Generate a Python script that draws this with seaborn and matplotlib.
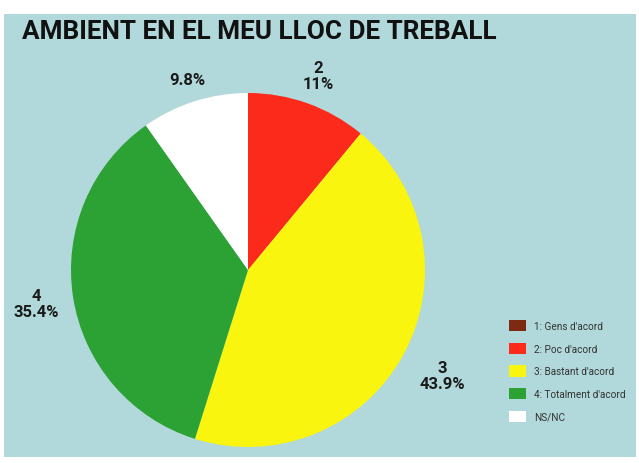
import matplotlib
matplotlib.use("Agg")
import matplotlib.pyplot as plt
import matplotlib.patches as mpatches
import numpy as np
import seaborn as sns

# data
categories = ["2", "3", "4", "NS/NC"]
shares = [11.0, 43.9, 35.4, 9.8]
slice_labels = ["2\n11%", "3\n43.9%", "4\n35.4%", "9.8%"]
slice_colors = ["#fb2a1b", "#f9f50e", "#2ca234", "#ffffff"]

legend_labels = ["1: Gens d'acord", "2: Poc d'acord", "3: Bastant d'acord",
                 "4: Totalment d'acord", "NS/NC"]
legend_colors = ["#7c2a12", "#fb2a1b", "#f9f50e", "#2ca234", "#ffffff"]

sns.set_theme(style="white")
plt.rcParams["font.family"] = ["Roboto", "DejaVu Sans"]

bg = "#b1d8da"
fig = plt.figure(figsize=(6.39, 4.64), dpi=100)
fig.patch.set_facecolor("white")
fig.patches.append(mpatches.Rectangle((4 / 639, 6 / 464), 632 / 639, 443 / 464,
                                      transform=fig.transFigure, facecolor=bg,
                                      edgecolor="none", zorder=-5))

fig.text(22 / 639, 1 - 32 / 464, "AMBIENT EN EL MEU LLOC DE TREBALL",
         fontsize=18.8, fontweight="bold", color="#111111", va="center", ha="left")

# pie axes: centre ~ (248, 271) px, radius ~ 177 px
r_px = 177
lim = 1.35
side = 2 * lim * r_px
cx, cy = 248, 464 - 271
ax = fig.add_axes([(cx - side / 2) / 639, (cy - side / 2) / 464, side / 639, side / 464])
ax.set_zorder(2)
ax.set_facecolor("none")

wedges, _ = ax.pie(shares, colors=slice_colors, startangle=90, counterclock=False,
                   radius=1, wedgeprops=dict(linewidth=0))
ax.set_xlim(-lim, lim)
ax.set_ylim(-lim, lim)
ax.set_aspect("equal")
ax.axis("off")

label_dist = [1.17, 1.25, 1.21, 1.13]
for w, lab, d in zip(wedges, slice_labels, label_dist):
    ang = np.deg2rad((w.theta1 + w.theta2) / 2)
    ax.text(d * np.cos(ang), d * np.sin(ang), lab, ha="center", va="center",
            fontsize=12, fontweight="bold", color="#1a1a1a", linespacing=1.1)

handles = [mpatches.Patch(facecolor=c, edgecolor="none", label=l)
           for c, l in zip(legend_colors, legend_labels)]
fig.legend(handles=handles, loc="center left", bbox_to_anchor=(500 / 639, 1 - 372 / 464),
           frameon=False, fontsize=7.2, labelcolor="#333333", handlelength=1.7,
           handleheight=1.35, labelspacing=1.15, handletextpad=0.8)

fig.savefig("out.png", dpi=100, facecolor=fig.get_facecolor())
